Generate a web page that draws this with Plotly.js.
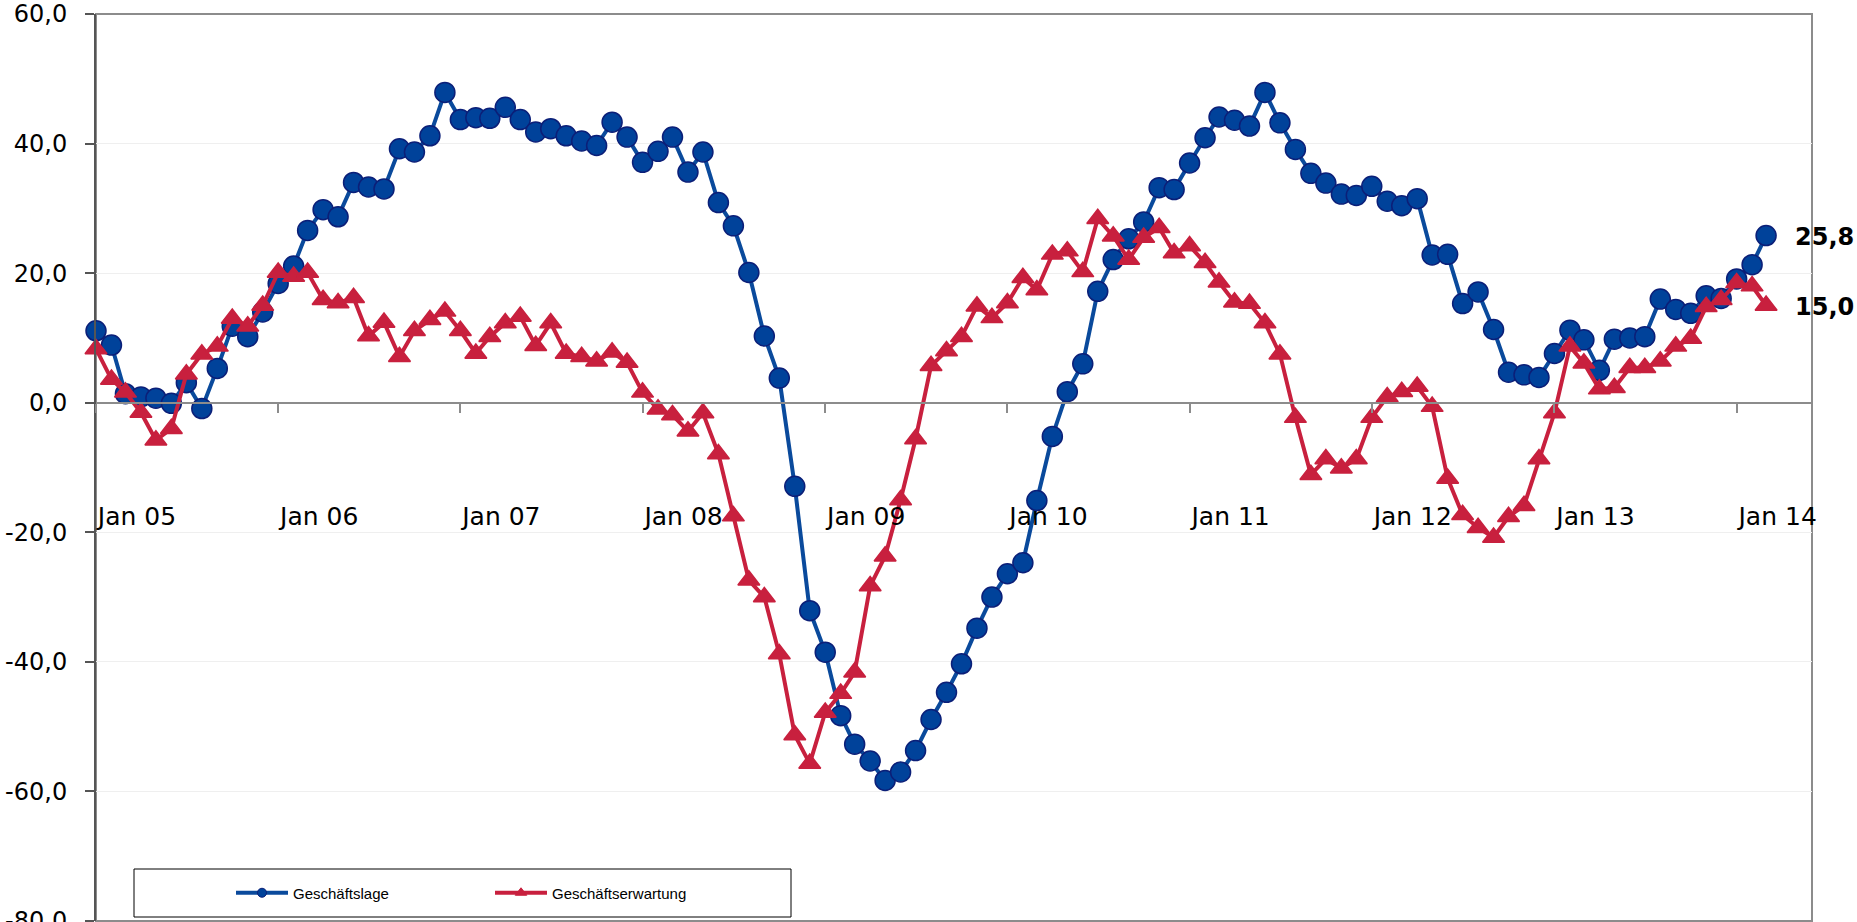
<!DOCTYPE html>
<html>
<head>
<meta charset="utf-8">
<script src="https://cdn.plot.ly/plotly-3.0.1.min.js"></script>
<style>
  html, body { margin: 0; padding: 0; background: #ffffff; }
  #chart { width: 1857px; height: 922px; }
</style>
</head>
<body>
<div id="chart"></div>
<script>
// Months Jan 2005 .. Mar 2014 (111 monthly observations)
var startYear = 2005;
var monthCount = 111;
var months = [];
for (var k = 0; k < monthCount; k++) {
  var yy = startYear + Math.floor(k / 12);
  var mm = (k % 12) + 1;
  months.push(yy + '-' + (mm < 10 ? '0' + mm : mm) + '-01');
}

var seriesNames = ['Geschäftslage', 'Geschäftserwartung'];

// y-axis ticks and their labels
var yTickVals = [-80, -60, -40, -20, 0, 20, 40, 60];
var yTickText = ['-80,0', '-60,0', '-40,0', '-20,0', '0,0', '20,0', '40,0', '60,0'];

// Geschäftslage (business situation)
var geschaeftslage = [
  11.1, 8.9, 1.4, 0.9, 0.7, -0.1, 3.1, -0.9, 5.3, 11.8, 10.2, 14.0,
  18.4, 21.1, 26.6, 29.8, 28.7, 34.0, 33.3, 33.0, 39.2, 38.7, 41.2, 47.9,
  43.7, 44.0, 43.9, 45.6, 43.7, 41.8, 42.3, 41.2, 40.4, 39.7, 43.3, 41.0,
  37.1, 38.8, 41.0, 35.6, 38.7, 30.9, 27.3, 20.1, 10.3, 3.8, -12.9, -32.1,
  -38.5, -48.3, -52.7, -55.3, -58.3, -57.0, -53.7, -48.9, -44.7, -40.3, -34.8, -30.0,
  -26.4, -24.7, -15.1, -5.2, 1.7, 6.0, 17.2, 22.1, 25.3, 27.9, 33.2, 32.9,
  37.0, 40.9, 44.1, 43.6, 42.7, 47.9, 43.2, 39.1, 35.4, 33.9, 32.2, 32.0,
  33.4, 31.1, 30.4, 31.5, 22.8, 22.9, 15.3, 17.1, 11.3, 4.7, 4.3, 3.9,
  7.6, 11.2, 9.7, 5.0, 9.8, 10.0, 10.2, 16.0, 14.4, 13.8, 16.5, 16.1,
  19.1, 21.3, 25.8
];

// Geschäftserwartung (business expectations)
var geschaeftserwartung = [
  8.3, 3.6, 1.6, -1.5, -5.8, -4.0, 4.4, 7.5, 8.7, 13.0, 11.8, 15.0,
  20.1, 19.5, 20.1, 15.9, 15.4, 16.2, 10.3, 12.4, 7.1, 11.1, 12.8, 14.1,
  11.1, 7.6, 10.2, 12.3, 13.3, 8.8, 12.3, 7.6, 7.1, 6.4, 7.8, 6.2,
  1.6, -1.0, -1.9, -4.4, -1.6, -7.9, -17.5, -27.4, -30.0, -38.8, -51.3, -55.7,
  -47.8, -44.9, -41.6, -28.3, -23.7, -15.0, -5.6, 5.7, 8.0, 10.2, 14.9, 13.1,
  15.4, 19.3, 17.4, 22.9, 23.4, 20.2, 28.4, 25.7, 22.1, 25.5, 27.0, 23.1,
  24.2, 21.6, 18.6, 15.5, 15.3, 12.3, 7.5, -2.3, -11.1, -8.7, -10.1, -8.7,
  -2.3, 0.9, 1.7, 2.5, -0.6, -11.7, -17.3, -19.3, -20.8, -17.6, -15.9, -8.7,
  -1.6, 8.7, 6.1, 2.1, 2.3, 5.4, 5.4, 6.4, 8.7, 9.9, 14.8, 15.9,
  18.5, 18.0, 15.0
];

var xRange = ['2005-01-01', '2014-06-01'];
var yRange = [-80, 60];

var BLUE_LINE = '#0a4a9c';
var BLUE_FILL = '#00429a';
var BLUE_EDGE = '#0b1f78';
var RED = '#c8203e';
var GRAY = '#8c8c8c';
var DARKGRAY = '#555555';

function fmt(v) { return v.toFixed(1).replace('.', ','); }

var traces = [
  {
    x: months, y: geschaeftslage, type: 'scatter', mode: 'lines+markers',
    name: seriesNames[0], showlegend: false, cliponaxis: false,
    line: { color: BLUE_LINE, width: 4 },
    marker: { symbol: 'circle', size: 20, color: BLUE_FILL, line: { color: BLUE_EDGE, width: 1.5 } }
  },
  {
    x: months, y: geschaeftserwartung, type: 'scatter', mode: 'lines+markers',
    name: seriesNames[1], showlegend: false, cliponaxis: false,
    line: { color: RED, width: 4 },
    marker: { symbol: 'triangle-up', size: 19, color: RED, line: { color: RED, width: 1.5 } }
  },
  // legend-only entries (small symbols as in the reference legend)
  {
    x: [null], y: [null], type: 'scatter', mode: 'lines+markers',
    name: seriesNames[0], legend: 'legend',
    line: { color: BLUE_LINE, width: 4 },
    marker: { symbol: 'circle', size: 9, color: BLUE_FILL, line: { color: BLUE_EDGE, width: 1 } }
  },
  {
    x: [null], y: [null], type: 'scatter', mode: 'lines+markers',
    name: seriesNames[1], legend: 'legend2',
    line: { color: RED, width: 4 },
    marker: { symbol: 'triangle-up', size: 10, color: RED, line: { color: RED, width: 1 } }
  }
];

var plotL = 96, plotR = 1812, plotT = 14, plotB = 921;
function px2paperX(p) { return (p - plotL) / (plotR - plotL); }
function px2paperY(p) { return (plotB - p) / (plotB - plotT); }

var last = monthCount - 1;

var layout = {
  width: 1857, height: 922,
  margin: { l: plotL, r: 1857 - plotR, t: plotT, b: 922 - plotB, pad: 0 },
  paper_bgcolor: '#ffffff', plot_bgcolor: '#ffffff',
  separators: ',.',
  font: { family: 'DejaVu Sans', size: 25, color: '#000000' },
  xaxis: {
    type: 'date', range: xRange,
    anchor: 'free', position: (0 - yRange[0]) / (yRange[1] - yRange[0]),
    showline: true, linecolor: GRAY, linewidth: 2,
    ticks: 'outside', ticklen: 9, tickwidth: 2, tickcolor: GRAY,
    tick0: '2005-01-01', dtick: 'M12', tickformat: '%b %y',
    ticklabelstandoff: 82, ticklabelshift: 41, ticklabeloverflow: 'allow',
    showgrid: false, zeroline: false,
    tickfont: { family: 'DejaVu Sans', size: 25, color: '#000000' }
  },
  yaxis: {
    range: yRange, tickmode: 'array', tickvals: yTickVals, ticktext: yTickText,
    showline: true, linecolor: DARKGRAY, linewidth: 2,
    ticks: 'outside', ticklen: 9, tickwidth: 2, tickcolor: DARKGRAY,
    ticklabelstandoff: 13, ticklabeloverflow: 'allow',
    showgrid: true, gridcolor: '#efefef', gridwidth: 1,
    zeroline: false,
    tickfont: { family: 'DejaVu Sans', size: 24, color: '#000000' }
  },
  shapes: [
    { type: 'rect', xref: 'paper', yref: 'paper', x0: 0, x1: 1, y0: 0, y1: 1,
      line: { color: GRAY, width: 2 }, layer: 'below' },
    { type: 'rect', xref: 'paper', yref: 'paper',
      x0: px2paperX(134), x1: px2paperX(791), y0: px2paperY(917), y1: px2paperY(869),
      line: { color: '#000000', width: 1 }, fillcolor: '#ffffff', layer: 'below' }
  ],
  legend: {
    x: px2paperX(231), y: px2paperY(893), xanchor: 'left', yanchor: 'middle',
    orientation: 'h', bgcolor: 'rgba(0,0,0,0)', borderwidth: 0, itemwidth: 52,
    font: { family: 'Liberation Sans', size: 15, color: '#000000' }
  },
  legend2: {
    x: px2paperX(490), y: px2paperY(893), xanchor: 'left', yanchor: 'middle',
    orientation: 'h', bgcolor: 'rgba(0,0,0,0)', borderwidth: 0, itemwidth: 52,
    font: { family: 'Liberation Sans', size: 15, color: '#000000' }
  },
  annotations: [
    { x: months[last], y: geschaeftslage[last], xref: 'x', yref: 'y',
      text: fmt(geschaeftslage[last]), showarrow: false,
      xanchor: 'left', yanchor: 'middle', xshift: 27, yshift: -1,
      font: { family: 'DejaVu Sans', size: 24, color: '#000000', weight: 'bold' } },
    { x: months[last], y: geschaeftserwartung[last], xref: 'x', yref: 'y',
      text: fmt(geschaeftserwartung[last]), showarrow: false,
      xanchor: 'left', yanchor: 'middle', xshift: 27, yshift: -1,
      font: { family: 'DejaVu Sans', size: 24, color: '#000000', weight: 'bold' } }
  ]
};

Plotly.newPlot('chart', traces, layout, { staticPlot: true, displayModeBar: false });
</script>
</body>
</html>
